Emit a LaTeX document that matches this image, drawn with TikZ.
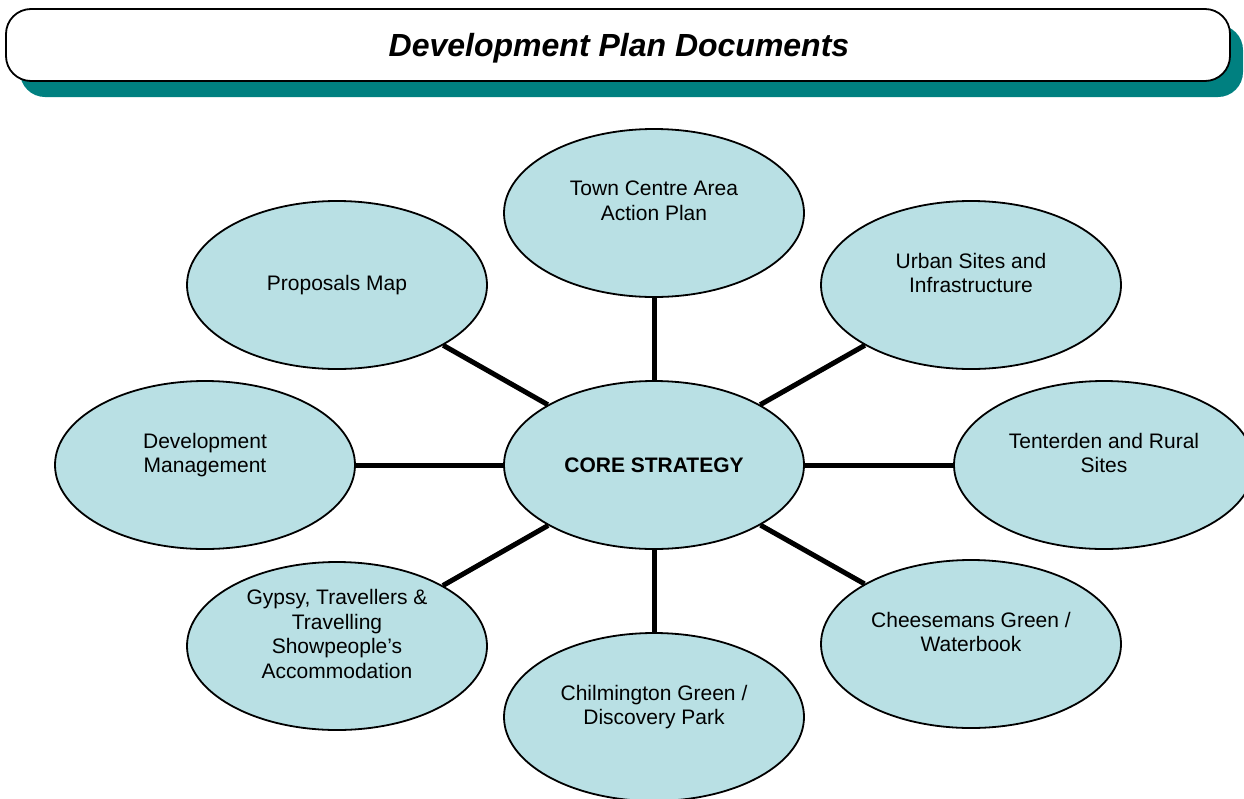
\documentclass[tikz,border=0pt]{standalone}
\usepackage{fontspec}
\setmainfont{Liberation Sans}
\usetikzlibrary{shapes.geometric}

\definecolor{bannershadow}{RGB}{0,128,128}
\definecolor{bubble}{RGB}{185,224,228}

\begin{document}
\begin{tikzpicture}[x=1pt,y=-1pt,
    doc/.style={ellipse, draw=black, line width=1.8pt, fill=bubble,
        minimum width=300pt, minimum height=168pt, inner sep=0pt,
        align=center, font=\fontsize{21}{24.5}\selectfont},
    link/.style={line width=5pt}]

    \useasboundingbox (0,0) rectangle (1244,798);

    % title banner with its shadow
    \fill[bannershadow, rounded corners=25pt] (20,25) rectangle (1243,97);
    \draw[fill=white, line width=1.8pt, rounded corners=25pt] (6,9) rectangle (1230,81);
    \node[font=\fontsize{32}{38}\selectfont\bfseries\itshape] (title) at (619,48) {Development Plan Documents};

    % the documents
    \node[doc, font=\fontsize{21}{24.5}\selectfont\bfseries] (core) at (654,465) {CORE STRATEGY};
    \node[doc] (town)  at (654,213)  {Town Centre Area\\Action Plan\\\mbox{}};
    \node[doc] (urban) at (971,285)  {Urban Sites and\\Infrastructure\\\mbox{}};
    \node[doc] (tent)  at (1104,465) {Tenterden and Rural\\Sites\\\mbox{}};
    \node[doc] (chees) at (971,644)  {Cheesemans Green /\\Waterbook\\\mbox{}};
    \node[doc] (chil)  at (654,717)  {Chilmington Green /\\Discovery Park\\\mbox{}};
    \node[doc] (gypsy) at (337,646)  {Gypsy, Travellers \&\\Travelling\\Showpeople’s\\Accommodation\\\mbox{}};
    \node[doc] (devm)  at (205,465)  {Development\\Management\\\mbox{}};
    \node[doc] (prop)  at (337,285)  {Proposals Map};

    % spokes
    \foreach \n in {town,urban,tent,chees,chil,gypsy,devm,prop}
        \draw[link] (core) -- (\n);

\end{tikzpicture}
\end{document}
